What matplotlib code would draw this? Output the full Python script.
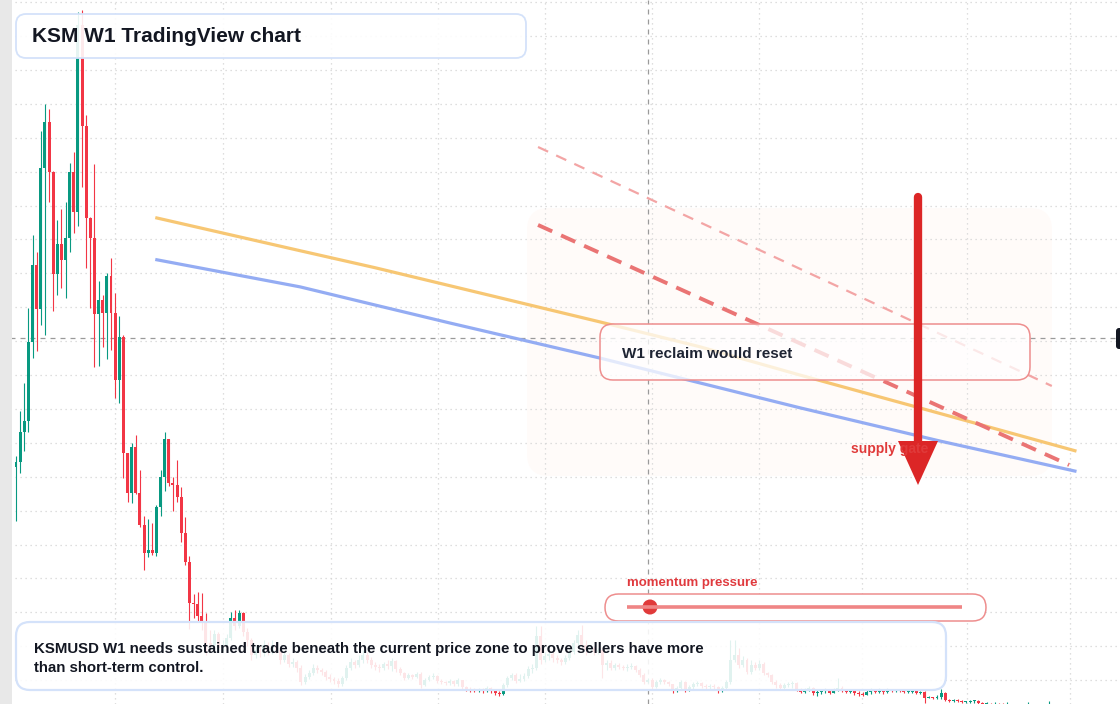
import numpy as np
import matplotlib
matplotlib.use("Agg")
import matplotlib.pyplot as plt
from matplotlib.patches import FancyBboxPatch, Polygon, Rectangle, Circle

plt.rcParams['font.family'] = ['Liberation Sans', 'DejaVu Sans']

# weekly KSMUSD candles (price)
first_open = 219
closes = [223, 250, 259, 329, 397, 358, 483, 524, 480, 389,
          416, 402, 421, 480, 444, 610, 520, 439, 421, 354,
          366, 355, 388, 355, 296, 334, 231, 196, 236, 196,
          167, 142.5, 145, 142.5, 183, 210, 243, 204, 203, 192,
          160, 134.5, 98, 97, 87, 81, 63, 61, 71, 58,
          61, 67, 85, 78, 89, 72.5, 65.5, 52.2, 56.6, 54,
          61, 54.9, 61, 56.6, 47.8, 52.2, 44.3, 46, 40.7, 28.3,
          32.7, 36.3, 40.7, 38.9, 37.2, 32.7, 31, 29.2, 26.6, 31.9,
          40.7, 46, 43.4, 47.8, 52.2, 47.8, 43.4, 41.6, 40.7, 44.3,
          42.5, 46.9, 39.8, 36.3, 31.9, 34.5, 32.7, 35.4, 25.7, 30.1,
          32.7, 33.6, 29.2, 28.3, 27.4, 29.2, 26.6, 30.1, 23.9, 22.1,
          21.2, 20.4, 22.1, 20.4, 23, 20.4, 18.6, 17.7, 25.7, 31.9,
          34.5, 29.2, 31, 33.6, 39.8, 40.7, 69, 47.8, 51.3, 53.1,
          49.6, 47.8, 46, 49.6, 54.9, 62.8, 69.9, 61, 56.6, 58.4,
          54.9, 56.6, 43.4, 45.1, 40.7, 43.4, 41.6, 40.7, 41.6, 42.5,
          38.9, 34.5, 28.3, 30.1, 23.9, 28.3, 30.1, 28.3, 26.6, 20.4,
          23, 28.3, 21.2, 23.9, 26.6, 27.4, 24.8, 23.9, 24.8, 23.9,
          20.4, 23, 28.3, 47.8, 52.2, 43.4, 47.8, 37.2, 43.4, 40.7,
          44.3, 36.3, 34.5, 28.3, 25.7, 23, 25.7, 26.6, 27.4, 22.1,
          19.5, 22.1, 23, 18.6, 19.5, 20.4, 21.2, 18.6, 21.2, 23,
          21.2, 19.5, 21.2, 18.6, 17.7, 16.8, 19.5, 21.2, 19.5, 21.2,
          19.5, 21.2, 20.4, 21.2, 20.4, 19.5, 19.5, 20.4, 18.6, 19.5,
          14.2, 15, 14.2, 15, 18.6, 12.4, 11.5, 12.4, 11.5, 10.6,
          10.6, 11.5, 11.5, 9.7, 8.9, 8.9, 8, 8.9, 8, 7.1,
          8, 7.1, 6.2, 7.1, 6.2, 8, 7.1, 6.2, 7.1, 6.2,
          8.9]
highs = [228, 268, 293, 359, 424, 409, 516, 540, 535, 481,
         437, 447, 453, 488, 497, 621, 623, 530, 440, 487,
         383, 371, 390, 404, 373, 352, 335, 231, 240, 247,
         216, 175, 173, 169, 185, 216, 250, 243, 210, 225,
         201, 174, 140, 106, 108, 107, 89, 74, 74, 72.5,
         65.5, 71, 90, 92, 92, 90, 76, 67, 60, 61,
         65.5, 64, 65.5, 64, 58, 54.9, 54, 49.6, 47.8, 43.4,
         35.4, 38.9, 44.3, 43.4, 40.7, 38.9, 35.4, 32.7, 31.9, 33.6,
         43.4, 49.6, 47.8, 52.2, 56.6, 54.9, 50.4, 46, 44.3, 46,
         47.8, 49.6, 47.8, 41.6, 37.2, 36.3, 35.4, 37.2, 37.2, 31.9,
         34.5, 36.3, 34.5, 31, 29.2, 31, 30.1, 31.9, 30.1, 24.8,
         23.9, 23, 23, 23, 24.8, 23.9, 21.2, 20.4, 27.4, 33.6,
         36.3, 36.3, 35.4, 36.3, 42.5, 44.3, 78, 78, 54.9, 56.6,
         56.6, 52.2, 49.6, 52.2, 58, 65.5, 74, 79, 65.5, 60,
         60, 58.4, 58.4, 47.8, 47.8, 45.1, 45.1, 43.4, 44.3, 45.1,
         43.4, 40.7, 36.3, 31.9, 31.9, 30.1, 31.9, 31, 29.2, 26.6,
         24.8, 30.1, 29.2, 25.7, 28.3, 29.2, 28.3, 26.6, 26.6, 26.6,
         24.8, 24.8, 30.1, 65.5, 65.5, 58.4, 51.3, 49.6, 47.8, 46,
         47.8, 46, 37.2, 35.4, 30.1, 27.4, 27.4, 28.3, 29.2, 28.3,
         23, 23, 24.8, 23.9, 21.2, 22.1, 23, 22.1, 23, 31.9,
         24.8, 22.1, 22.1, 22.1, 20.4, 19.5, 21.2, 23, 22.1, 23,
         22.1, 23, 22.1, 22.1, 22.1, 21.2, 21.2, 21.2, 21.2, 20.4,
         20.4, 15.9, 15, 16.8, 22.1, 19.5, 13.3, 13.3, 13.3, 12.4,
         11.5, 12.4, 12.4, 12.4, 10.6, 10.6, 9.7, 10.6, 9.7, 9.7,
         10.6, 8.9, 8, 8.9, 8, 10.6, 8.9, 8, 8.9, 8,
         11.5]
lows = [171, 213, 233, 250, 315, 321, 344, 335, 453, 357,
        371, 377, 368, 409, 426, 432, 466, 395, 359, 307,
        308, 325, 314, 322, 280, 275, 209, 188, 187, 195,
        165.5, 127, 139, 141, 140, 175, 197, 202, 180, 188,
        152, 132, 75, 85, 81, 74, 52.2, 56.6, 59, 54.9,
        55.8, 59, 65.5, 74, 76, 69, 60, 47.8, 49.6, 50.4,
        51.3, 52.2, 53.1, 54, 44.3, 46, 41.6, 41.6, 37.2, 25.7,
        26.6, 31, 34.5, 36.3, 34.5, 30.1, 28.3, 26.6, 23.9, 24.8,
        30.1, 38.9, 40.7, 41.6, 45.1, 45.1, 40.7, 38.9, 37.2, 38.9,
        39.8, 38, 37.2, 34.5, 30.1, 31, 31, 31.9, 23, 24.8,
        29.2, 31, 27.4, 26.6, 25.7, 25.7, 24.8, 24.8, 22.1, 20.4,
        19.5, 19.5, 19.5, 18.6, 19.5, 18.6, 16.8, 15.9, 16.8, 23.9,
        30.1, 27.4, 28.3, 29.2, 31.9, 36.3, 38.9, 44.3, 46, 47.8,
        46, 45.1, 43.4, 44.3, 47.8, 53.1, 61, 56.6, 52.2, 54.9,
        52.2, 53.1, 31.9, 38.9, 38.9, 38.9, 39.8, 38.9, 38, 39.8,
        37.2, 32.7, 26.6, 27.4, 21.2, 23, 26.6, 26.6, 24.8, 18.6,
        19.5, 21.2, 19.5, 20.4, 22.1, 24.8, 23, 22.1, 22.1, 21.2,
        18.6, 19.5, 21.2, 26.6, 46, 40.7, 41.6, 35.4, 35.4, 38.9,
        38.9, 34.5, 32.7, 26.6, 23, 21.2, 22.1, 23.9, 23, 20.4,
        18.6, 18.6, 20.4, 16.8, 15.9, 17.7, 18.6, 17.7, 18.6, 20.4,
        19.5, 18.6, 18.6, 16.8, 15.9, 15.9, 16.8, 17.7, 18.6, 18.6,
        17.7, 18.6, 19.5, 19.5, 19.5, 18.6, 18.6, 18.6, 17.7, 17.7,
        9.7, 14.2, 13.3, 13.3, 13.3, 11.5, 10.6, 10.6, 10.6, 9.7,
        9.7, 9.7, 9.7, 8.9, 7.1, 8, 6.2, 7.1, 6.2, 5.3,
        6.2, 5.3, 4.4, 5.3, 4.4, 5.3, 5.3, 4.4, 5.3, 4.4,
        5.3]

# overlay lines (week index, price)
ma_fast_x = [34.1, 68.8, 86.9, 105.1, 141.4, 165.6, 189.8, 223.7, 256.4]
ma_fast_y = [439, 410, 395, 379, 347, 325, 300, 266, 233]
ma_slow_x = [34.1, 68.8, 86.9, 105.1, 141.4, 165.6, 189.8, 223.7, 256.4]
ma_slow_y = [402, 378, 362, 346, 315, 293, 271, 241.6, 215]
trend_main_x = [126.4, 255.0]
trend_main_y = [432.8, 220.4]
trend_upper_x = [126.4, 250.8]
trend_upper_y = [501.8, 290.3]
cross_x = 153.0
cross_y = 332.8
month_grid = [24.0, 50.1, 76.3, 102.2, 128.1, 154.0, 179.9, 204.8, 230.3, 255.2]

title = "KSM W1 TradingView chart"
note_lines = ["KSMUSD W1 needs sustained trade beneath the current price zone to prove sellers have more",
              "than short-term control."]

UP = '#089981'
DOWN = '#f23645'

fig = plt.figure(figsize=(11.2, 7.04), dpi=100)
ax = fig.add_axes([0, 0, 1, 1])
ax.set_facecolor('white')

# pixel overlay for annotations (limits set first so its transform can be used on ax)
ov = fig.add_axes([0, 0, 1, 1], zorder=5)
ov.set_xlim(0, 1120)
ov.set_ylim(704, 0)
ov.axis('off')
ov.patch.set_alpha(0)

opens = [first_open] + closes[:-1]
idx = np.arange(len(closes))
cols = [UP if c >= o else DOWN for o, c in zip(opens, closes)]
bottoms = [min(o, c) for o, c in zip(opens, closes)]
heights = [max(abs(c - o), 0.9) for o, c in zip(opens, closes)]
ax.vlines(idx, lows, highs, colors=cols, lw=0.8, zorder=3)
ax.bar(idx, heights, bottom=bottoms, width=0.72, color=cols, zorder=4, linewidth=0)

ax.set_xlim(-16 / 4.13, (1120 - 16) / 4.13)
ax.set_ylim(8.85, 631.9)
ax.set_xticks(month_grid)
ax.set_yticks(np.arange(30, 631, 30))
ax.grid(True, color='#d4d4d4', lw=0.9, linestyle=(0, (1, 3)), zorder=0)
ax.tick_params(length=0, labelleft=False, labelbottom=False)
for s in ax.spines.values():
    s.set_visible(False)

# faint zone behind the lines
ax.add_patch(FancyBboxPatch((527, 208), 525, 268, boxstyle='round,pad=0,rounding_size=22',
                            fc='#fffbf9', ec='none', transform=ov.transData, zorder=1))

# crosshair
ax.axvline(cross_x, color='#9a9a9a', lw=0.9, ls=(0, (4, 4)), zorder=2)
ax.axhline(cross_y, color='#9a9a9a', lw=0.9, ls=(0, (4, 4)), zorder=2)

# moving averages and trend lines
ax.plot(ma_fast_x, ma_fast_y, color='#f7c46c', lw=2.3, alpha=0.95, zorder=6)
ax.plot(ma_slow_x, ma_slow_y, color='#8ea8f3', lw=2.3, alpha=0.95, zorder=6)
ax.plot(trend_main_x, trend_main_y, color='#ea7474', lw=2.8, ls=(0, (4, 2.5)), zorder=6)
ax.plot(trend_upper_x, trend_upper_y, color='#f3a5a5', lw=1.6, ls=(0, (5, 4)), zorder=6)

ov.add_patch(Rectangle((0, 0), 12, 704, color='#e8e8e8', lw=0))

ov.text(851, 449, "supply gate", color='#e03a3a', fontsize=10, fontweight='bold', va='center')

# big arrow
ov.plot([918, 918], [197, 443], color='#dc2626', lw=6, solid_capstyle='round')
ov.add_patch(Polygon([(898, 441), (938, 441), (918, 485)], closed=True, color='#dc2626', lw=0))

# reclaim box
ov.add_patch(FancyBboxPatch((600, 324), 430, 56, boxstyle='round,pad=0,rounding_size=13',
                            fc=(1, 1, 1, 0.75), ec='#ee8e8e', lw=1.1))
ov.text(622, 354, "W1 reclaim would reset", color='#1e2433', fontsize=11, fontweight='bold', va='center')

# title box
ov.add_patch(FancyBboxPatch((16, 14), 510, 44, boxstyle='round,pad=0,rounding_size=10',
                            fc=(1, 1, 1, 0.9), ec='#d4e2fa', lw=1.3))
ov.text(32, 37, title, color='#131722', fontsize=15, fontweight='bold', va='center')

# momentum slider
ov.text(627, 583, "momentum pressure", color='#e03a3e', fontsize=9.5, fontweight='bold', va='center')
ov.add_patch(FancyBboxPatch((605, 594), 381, 27, boxstyle='round,pad=0,rounding_size=13.5',
                            fc='white', ec='#ee8e8e', lw=1.1))
ov.plot([627, 962], [607, 607], color='#ef8585', lw=2.6, solid_capstyle='butt')
ov.add_patch(Circle((650, 607), 7.5, color='#e03a3a', lw=0))

# note box
ov.add_patch(FancyBboxPatch((16, 622), 930, 68, boxstyle='round,pad=0,rounding_size=14',
                            fc=(1, 1, 1, 0.88), ec='#d4e2fa', lw=1.6))
ov.text(34, 649, note_lines[0], color='#131722', fontsize=10.8, fontweight='bold', va='center')
ov.text(34, 668, note_lines[1], color='#131722', fontsize=10.8, fontweight='bold', va='center')

# price label stub at right edge
ov.add_patch(FancyBboxPatch((1116, 328), 12, 21, boxstyle='round,pad=0,rounding_size=3',
                            fc='#131722', ec='none'))

fig.savefig('out.png', dpi=100)
